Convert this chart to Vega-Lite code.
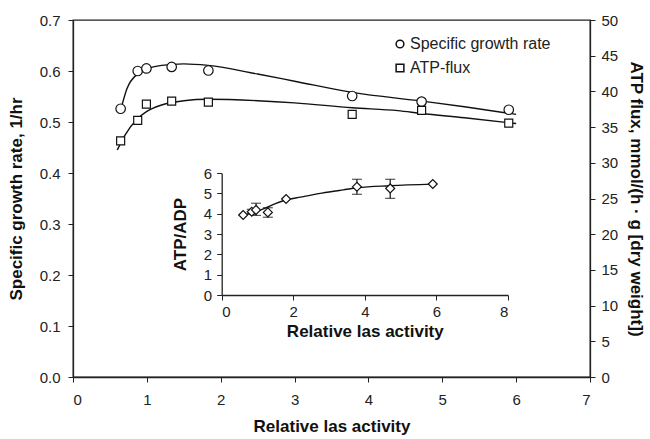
{
  "$schema": "https://vega.github.io/schema/vega-lite/v6.json",
  "width": 517,
  "height": 357,
  "autosize": {"type": "none"},
  "padding": {"left": 73, "top": 20, "right": 60, "bottom": 62},
  "config": {
    "font": "Liberation Sans",
    "view": {"stroke": "#222", "strokeWidth": 1.3},
    "axis": {
      "grid": false,
      "domainColor": "#222",
      "domainWidth": 1.3,
      "tickColor": "#222",
      "tickSize": 5,
      "labelColor": "#222",
      "titleColor": "#111",
      "labelFontSize": 15,
      "titleFontSize": 17,
      "titleFontWeight": "bold",
      "labelFont": "Liberation Sans",
      "titleFont": "Liberation Sans"
    }
  },
  "datasets": {
    "growth": [
      {"x": 0.645, "y": 0.526}, {"x": 0.876, "y": 0.600}, {"x": 0.994, "y": 0.605}, {"x": 1.336, "y": 0.608},
      {"x": 1.833, "y": 0.601}, {"x": 3.78, "y": 0.551}, {"x": 4.72, "y": 0.540}, {"x": 5.90, "y": 0.524}
    ],
    "growthFit": [
      {"x": 0.64, "y": 0.52}, {"x": 0.73, "y": 0.565}, {"x": 0.88, "y": 0.595}, {"x": 1.0, "y": 0.604},
      {"x": 1.2, "y": 0.611}, {"x": 1.5, "y": 0.614}, {"x": 1.83, "y": 0.611}, {"x": 2.5, "y": 0.594},
      {"x": 3.0, "y": 0.580}, {"x": 3.78, "y": 0.558}, {"x": 4.72, "y": 0.541}, {"x": 5.3, "y": 0.530},
      {"x": 6.0, "y": 0.515}
    ],
    "atp": [
      {"x": 0.645, "y": 33.06}, {"x": 0.876, "y": 35.94}, {"x": 0.994, "y": 38.22}, {"x": 1.336, "y": 38.64},
      {"x": 1.833, "y": 38.5}, {"x": 3.78, "y": 36.78}, {"x": 4.72, "y": 37.34}, {"x": 5.90, "y": 35.57}
    ],
    "atpFit": [
      {"x": 0.60, "y": 31.8}, {"x": 0.7, "y": 33.8}, {"x": 0.876, "y": 36.2}, {"x": 1.0, "y": 37.2},
      {"x": 1.2, "y": 38.1}, {"x": 1.5, "y": 38.7}, {"x": 1.83, "y": 38.9}, {"x": 2.5, "y": 38.7},
      {"x": 3.0, "y": 38.4}, {"x": 3.78, "y": 37.7}, {"x": 4.4, "y": 37.3}, {"x": 4.72, "y": 36.9},
      {"x": 5.3, "y": 36.3}, {"x": 6.0, "y": 35.5}
    ],
    "ratio": [
      {"x": 0.60, "y": 3.94}, {"x": 0.84, "y": 4.10, "lo": 3.98, "hi": 4.22}, {"x": 0.96, "y": 4.19, "lo": 3.92, "hi": 4.52},
      {"x": 1.29, "y": 4.07, "lo": 3.83, "hi": 4.30}, {"x": 1.80, "y": 4.73}, {"x": 3.78, "y": 5.33, "lo": 4.96, "hi": 5.70},
      {"x": 4.71, "y": 5.25, "lo": 4.76, "hi": 5.70}, {"x": 5.90, "y": 5.47}
    ],
    "ratioFit": [
      {"x": 0.6, "y": 3.93}, {"x": 0.9, "y": 4.08}, {"x": 1.2, "y": 4.27}, {"x": 1.5, "y": 4.5},
      {"x": 1.8, "y": 4.68}, {"x": 2.2, "y": 4.82}, {"x": 2.8, "y": 5.02}, {"x": 3.4, "y": 5.18},
      {"x": 3.8, "y": 5.28}, {"x": 4.7, "y": 5.38}, {"x": 5.9, "y": 5.46}
    ]
  },
  "layer": [
    {
      "encoding": {
        "x": {
          "field": "x", "type": "quantitative",
          "scale": {"domain": [0, 7], "nice": false},
          "axis": {"orient": "bottom", "values": [0, 1, 2, 3, 4, 5, 6, 7], "title": "Relative las activity", "labelPadding": 10, "titlePadding": 11}
        }
      },
      "layer": [
        {
          "encoding": {
            "y": {
              "field": "y", "type": "quantitative",
              "scale": {"domain": [0, 0.7], "nice": false, "zero": false},
              "axis": {"orient": "left", "values": [0, 0.1, 0.2, 0.3, 0.4, 0.5, 0.6, 0.7], "format": ".1f", "title": "Specific growth rate, 1/hr", "labelPadding": 8, "titlePadding": 14}
            }
          },
          "layer": [
            {"data": {"name": "growthFit"}, "mark": {"type": "line", "color": "#111", "strokeWidth": 1.4, "interpolate": "monotone"}},
            {
              "data": {"name": "growth"},
              "mark": {"type": "point", "filled": true, "fill": "white", "stroke": "#111", "strokeWidth": 1.2, "size": 90, "opacity": 1},
              "encoding": {
                "shape": {
                  "datum": "Specific growth rate",
                  "scale": {"domain": ["Specific growth rate", "ATP-flux"], "range": ["circle", "square"]},
                  "legend": {
                    "orient": "none", "legendX": 319, "legendY": 16, "title": null,
                    "labelFontSize": 16, "labelColor": "#222", "labelFont": "Liberation Sans", "labelLimit": 300,
                    "symbolSize": 60, "rowPadding": 8, "labelOffset": 2,
                    "encode": {
                      "symbols": {
                        "update": {
                          "stroke": {"value": "#111"},
                          "fill": {"value": "white"},
                          "strokeWidth": {"value": 1.2},
                          "opacity": {"value": 1}
                        }
                      }
                    }
                  }
                }
              }
            }
          ]
        },
        {
          "encoding": {
            "y": {
              "field": "y", "type": "quantitative",
              "scale": {"domain": [0, 50], "nice": false},
              "axis": {"orient": "right", "values": [0, 5, 10, 15, 20, 25, 30, 35, 40, 45, 50], "title": "ATP flux, mmol/(h · g [dry weight])", "labelPadding": 6, "titlePadding": 9}
            }
          },
          "layer": [
            {"data": {"name": "atpFit"}, "mark": {"type": "line", "color": "#111", "strokeWidth": 1.4, "interpolate": "monotone"}},
            {
              "data": {"name": "atp"},
              "mark": {"type": "point", "filled": true, "fill": "white", "stroke": "#111", "strokeWidth": 1.2, "size": 64, "opacity": 1},
              "encoding": {"shape": {"datum": "ATP-flux"}}
            }
          ]
        }
      ],
      "resolve": {"scale": {"y": "independent"}}
    },
    {
      "encoding": {
        "x": {
          "field": "x", "type": "quantitative",
          "scale": {"domain": [0, 8], "nice": false, "range": [148.7, 434.9]},
          "axis": {"orient": "bottom", "offset": -82, "values": [0, 2, 4, 6, 8], "title": "Relative las activity", "labelPadding": 4, "titlePadding": 4}
        },
        "y": {
          "field": "y", "type": "quantitative",
          "scale": {"domain": [0, 6], "nice": false, "range": [275, 153.2]},
          "axis": {"orient": "left", "offset": -148.7, "values": [0, 1, 2, 3, 4, 5, 6], "title": "ATP/ADP", "labelPadding": 5, "titlePadding": 14}
        }
      },
      "layer": [
        {
          "data": {"name": "ratio"},
          "transform": [{"filter": "isValid(datum.lo)"}],
          "mark": {"type": "rule", "color": "#111", "strokeWidth": 1.2},
          "encoding": {"y": {"field": "lo", "type": "quantitative"}, "y2": {"field": "hi"}}
        },
        {
          "data": {"name": "ratio"},
          "transform": [{"filter": "isValid(datum.lo)"}],
          "mark": {"type": "tick", "color": "#111", "orient": "horizontal", "size": 10, "thickness": 1.2},
          "encoding": {"y": {"field": "lo", "type": "quantitative"}}
        },
        {
          "data": {"name": "ratio"},
          "transform": [{"filter": "isValid(datum.hi)"}],
          "mark": {"type": "tick", "color": "#111", "orient": "horizontal", "size": 10, "thickness": 1.2},
          "encoding": {"y": {"field": "hi", "type": "quantitative"}}
        },
        {"data": {"name": "ratioFit"}, "mark": {"type": "line", "color": "#111", "strokeWidth": 1.4, "interpolate": "monotone"}},
        {
          "data": {"name": "ratio"},
          "mark": {"type": "point", "shape": "diamond", "filled": true, "fill": "white", "stroke": "#111", "strokeWidth": 1.2, "size": 80, "opacity": 1}
        }
      ]
    }
  ],
  "resolve": {"scale": {"x": "independent", "y": "independent"}}
}
